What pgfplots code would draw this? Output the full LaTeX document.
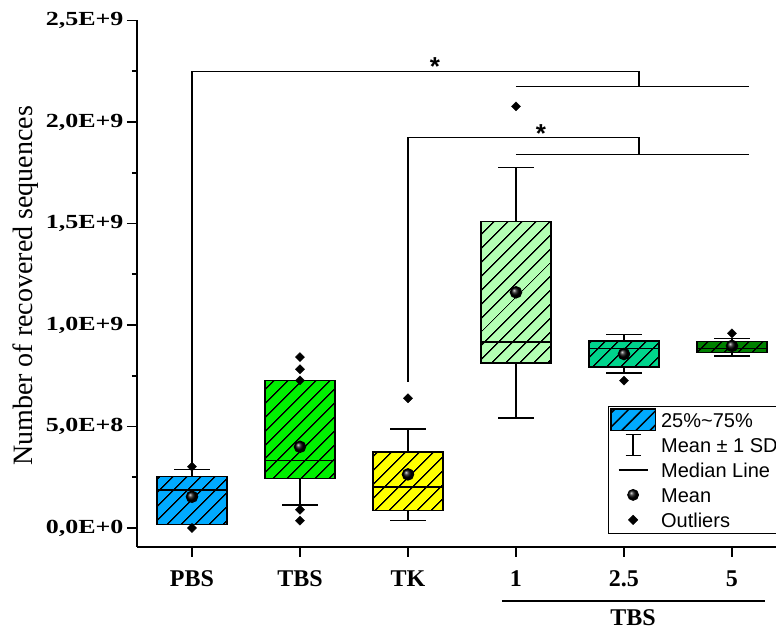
\documentclass[border=0pt]{standalone}
\usepackage{fontspec}
\usepackage{graphicx}
\usepackage{pgfplots}
\pgfplotsset{compat=1.18}
\usetikzlibrary{patterns.meta}
\usepgfplotslibrary{statistics}
\newfontfamily\legfont{Liberation Sans}
\newfontfamily\pal{Liberation Serif}
% shaded mean marks in black instead of the default blue
\makeatletter
\colorlet{tikz@ball}{black}
\makeatother

\definecolor{cPBS}{RGB}{0,170,255}
\definecolor{cTBS}{RGB}{0,240,0}
\definecolor{cTK}{RGB}{255,255,0}
\definecolor{cA}{RGB}{180,255,180}
\definecolor{cB}{RGB}{0,212,140}
\definecolor{cC}{RGB}{0,128,0}

\pgfplotsset{
  hbox/.style={boxplot/every box/.style={draw=black, line width=1.5pt,
      preaction={fill=#1}, pattern={Lines[angle=45,distance=10.5pt,line width=1.5pt]},
      pattern color=black}},
  bx/.style={black, line width=1.5pt, mark=square*, mark size=3.2pt,
      mark options={rotate=45, fill=black, line width=0.4pt}},
  bracket/.style={black, line width=1.4pt, mark=none},
}

\begin{document}
\begin{tikzpicture}
\useasboundingbox (0,0) rectangle (776pt,628pt);
\begin{axis}[
  at={(137pt,81pt)}, anchor=south west,
  x=108pt, y=203pt,
  xmin=-0.509, xmax=5.45, ymin=-0.0936, ymax=2.5,
  axis x line*=bottom, axis y line*=left,
  axis line style={line width=1.6pt},
  xtick={0,1,2,3,4,5},
  xticklabels={PBS,TBS,TK,1,2.5,5},
  ytick={0,0.5,1,1.5,2,2.5},
  minor ytick={0.25,0.75,1.25,1.75,2.25},
  yticklabels={{\scalebox{1.3}[1]{0,0E+0}},{\scalebox{1.3}[1]{5,0E+8}},{\scalebox{1.3}[1]{1,0E+9}},
               {\scalebox{1.3}[1]{1,5E+9}},{\scalebox{1.3}[1]{2,0E+9}},{\scalebox{1.3}[1]{2,5E+9}}},
  tick align=outside, major tick length=10pt, minor tick length=5pt,
  tick style={line width=1.6pt, black},
  xticklabel style={font=\pal\bfseries\fontsize{24}{24}\selectfont, yshift=-10pt},
  yticklabel style={font=\pal\bfseries\fontsize{20}{20}\selectfont},
  ylabel={Number of recovered sequences},
  every axis y label/.style={at={(axis description cs:-0.1730,0.4957)}, rotate=90, anchor=center,
     font=\pal\fontsize{28}{28}\selectfont},
  clip=false,
  boxplot/draw direction=y,
  boxplot/box extend=0.648,
  boxplot/whisker extend=0.327,
  boxplot/every average/.style={/tikz/mark=ball, /tikz/mark size=5.5pt},
  legend style={at={(0.7314,0.2678)}, anchor=north west, draw=black, line width=0.8pt,
     inner xsep=2pt, inner ysep=2pt, row sep=2pt,
     font=\legfont\fontsize{20}{20}\selectfont,
     nodes={inner ysep=0pt, inner xsep=5pt, text height=17pt, text depth=2.7pt}},
  legend cell align=left,
]
% legend
\addlegendimage{legend image code/.code={
  \path[draw=none,fill=none] (0pt,-11.5pt) rectangle (46pt,11.5pt);
  \draw[line width=1.5pt, preaction={fill=cPBS}, pattern={Lines[angle=45,distance=10pt,line width=1.5pt]}, pattern color=black]
     (0.75pt,-10.75pt) rectangle (45.25pt,10.75pt);}}
\addlegendentry{25\%\textasciitilde 75\%}
\addlegendimage{legend image code/.code={
  \path[draw=none,fill=none] (0pt,-11.5pt) rectangle (46pt,11.5pt);
  \draw[line width=1.4pt] (23pt,-10.5pt) -- (23pt,10.5pt);
  \draw[line width=1.4pt] (15.5pt,10.5pt) -- (30.5pt,10.5pt);
  \draw[line width=1.4pt] (15.5pt,-10.5pt) -- (30.5pt,-10.5pt);}}
\addlegendentry{Mean ± 1 SD}
\addlegendimage{legend image code/.code={
  \path[draw=none,fill=none] (0pt,-11.5pt) rectangle (46pt,11.5pt);
  \draw[line width=1.4pt] (8.5pt,0pt) -- (37.5pt,0pt);}}
\addlegendentry{Median Line}
\addlegendimage{legend image code/.code={
  \path[draw=none,fill=none] (0pt,-11.5pt) rectangle (46pt,11.5pt);
  \shade[ball color=black] (23pt,0pt) circle (5.5pt);}}
\addlegendentry{Mean}
\addlegendimage{legend image code/.code={
  \path[draw=none,fill=none] (0pt,-11.5pt) rectangle (46pt,11.5pt);
  \fill[black] (23pt,4.5pt) -- (27.5pt,0pt) -- (23pt,-4.5pt) -- (18.5pt,0pt) -- cycle;}}
\addlegendentry{Outliers}

% significance brackets
\addplot[bracket] coordinates {(0,0.302) (0,2.248) (4.14,2.248) (4.14,2.174)};
\addplot[bracket] coordinates {(3,2.174) (5.157,2.174)};
\addplot[bracket] coordinates {(2,0.72) (2,1.923) (4.14,1.923) (4.14,1.841)};
\addplot[bracket] coordinates {(3,1.841) (5.157,1.841)};

% boxes
\addplot[bx, hbox=cPBS, boxplot prepared={draw position=0,
  lower whisker=0.019, lower quartile=0.018, median=0.187,
  upper quartile=0.253, upper whisker=0.289, average=0.154}]
  table[row sep=\\, y index=0] {y\\ 0.302\\ 0.0\\};
\addplot[bx, hbox=cTBS, boxplot prepared={draw position=1,
  lower whisker=0.113, lower quartile=0.243, median=0.333,
  upper quartile=0.726, upper whisker=0.686, average=0.400}]
  table[row sep=\\, y index=0] {y\\ 0.842\\ 0.782\\ 0.727\\ 0.090\\ 0.036\\};
\addplot[bx, hbox=cTK, boxplot prepared={draw position=2,
  lower whisker=0.038, lower quartile=0.085, median=0.203,
  upper quartile=0.374, upper whisker=0.488, average=0.264}]
  table[row sep=\\, y index=0] {y\\ 0.639\\};
\addplot[bx, hbox=cA, boxplot prepared={draw position=3,
  lower whisker=0.543, lower quartile=0.814, median=0.915,
  upper quartile=1.509, upper whisker=1.777, average=1.161}]
  table[row sep=\\, y index=0] {y\\ 2.077\\};
\addplot[bx, hbox=cB, boxplot prepared={draw position=4,
  lower whisker=0.764, lower quartile=0.793, median=0.883,
  upper quartile=0.921, upper whisker=0.952, average=0.857}]
  table[row sep=\\, y index=0] {y\\ 0.726\\};
\addplot[bx, hbox=cC, boxplot prepared={draw position=5,
  lower whisker=0.847, lower quartile=0.864, median=0.885,
  upper quartile=0.918, upper whisker=0.934, average=0.897}]
  table[row sep=\\, y index=0] {y\\ 0.959\\};

% stars and group label
\node[anchor=base, inner sep=0pt, font=\legfont\bfseries\fontsize{26}{26}\selectfont] at (axis cs:2.25,2.228) {*};
\node[anchor=base, inner sep=0pt, font=\legfont\bfseries\fontsize{26}{26}\selectfont] at (axis cs:3.23,1.897) {*};
\draw[line width=1.8pt] (axis cs:2.870,-0.3596) -- (axis cs:5.306,-0.3596);
\node[anchor=base, inner sep=0pt, font=\pal\bfseries\fontsize{24}{24}\selectfont] at (axis cs:4.083,-0.4780) {TBS};
\end{axis}
\end{tikzpicture}
\end{document}
